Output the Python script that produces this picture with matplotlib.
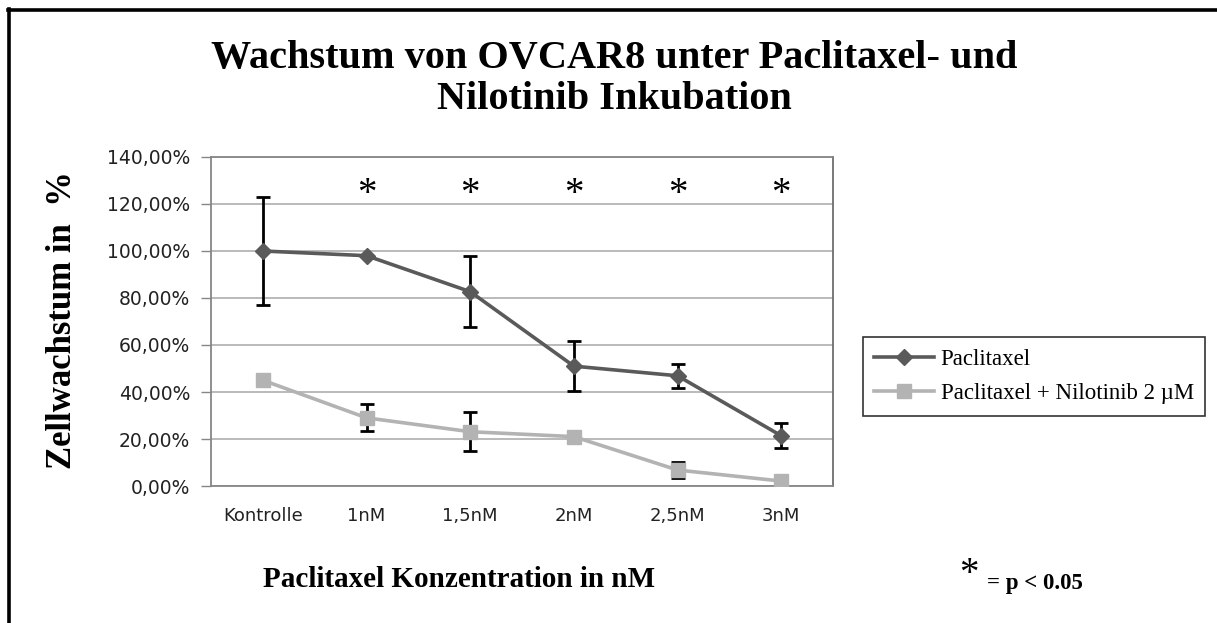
import numpy as np
import matplotlib.pyplot as plt
from matplotlib.lines import Line2D
from matplotlib.ticker import FuncFormatter

# categories and measured values (percent of control)
categories = ['Kontrolle', '1nM', '1,5nM', '2nM', '2,5nM', '3nM']
paclitaxel = [100.0, 98.0, 82.7, 51.0, 46.9, 21.4]
paclitaxel_err = [23.0, 0.0, 15.0, 10.6, 5.2, 5.2]
combo = [45.0, 29.0, 23.1, 21.0, 6.8, 2.1]
combo_err = [0.0, 5.8, 8.2, 0.0, 3.5, 0.0]
signif = [False, True, True, True, True, True]
star_level = 124.0
y_ticks = [0, 20, 40, 60, 80, 100, 120, 140]

SERIF = 'Liberation Serif'

fig = plt.figure(figsize=(12.17, 6.23), dpi=100)
ax = fig.add_axes([0.1734, 0.2199, 0.5111, 0.5281])

x = np.arange(len(categories))

# error bars first, lines + markers on top
ax.errorbar(x, paclitaxel, yerr=paclitaxel_err, fmt='none', ecolor='black',
            elinewidth=2, capsize=5, capthick=2, zorder=3)
ax.errorbar(x, combo, yerr=combo_err, fmt='none', ecolor='black',
            elinewidth=2, capsize=5, capthick=2, zorder=3)
ax.plot(x, paclitaxel, color='#5a5a5a', lw=2.6, marker='D', markersize=8,
        label='Paclitaxel', zorder=4)
ax.plot(x, combo, color='#b3b3b3', lw=2.6, marker='s', markersize=10,
        label='Paclitaxel + Nilotinib 2 µM', zorder=4)

# significance stars
for i, s in enumerate(signif):
    if s:
        ax.text(x[i], star_level, '*', ha='center', va='center',
                fontsize=28, family=SERIF, color='black')

ax.set_xlim(-0.5, len(categories) - 0.5)
ax.set_ylim(0, 140)
ax.set_yticks(y_ticks)
ax.yaxis.set_major_formatter(FuncFormatter(lambda v, p: f'{v:.2f}%'.replace('.', ',')))
ax.set_xticks(x)
ax.set_xticklabels(categories)
ax.tick_params(axis='x', length=0, pad=15, labelsize=13, labelcolor='#222222')
ax.tick_params(axis='y', length=7, width=1, color='#868686', direction='out',
               pad=8, labelsize=13.5, labelcolor='#222222')
ax.yaxis.grid(True, color='#b4b4b4', lw=1.3)
ax.set_axisbelow(True)
for sp in ax.spines.values():
    sp.set_color('#868686')
    sp.set_linewidth(1.3)
ax.spines['right'].set_color('#6e6e6e')

# titles and axis labels
fig.text(0.505, 0.873, 'Wachstum von OVCAR8 unter Paclitaxel- und\nNilotinib Inkubation',
         ha='center', va='center', fontsize=29, fontweight='bold', family=SERIF,
         linespacing=1.15)
fig.text(0.051, 0.487, 'Zellwachstum in  %', rotation=90, ha='center', va='center',
         fontsize=25, fontweight='bold', family=SERIF)
fig.text(0.377, 0.07, 'Paclitaxel Konzentration in nM', ha='center', va='center',
         fontsize=21, fontweight='bold', family=SERIF)

leg = fig.legend(loc='upper left', bbox_to_anchor=(0.709, 0.459), frameon=True,
                 fancybox=False, edgecolor='black', prop={'family': SERIF, 'size': 16.5},
                 handlelength=2.6, borderpad=0.5, labelspacing=0.6, handletextpad=0.3,
                 borderaxespad=0)
leg.get_frame().set_linewidth(1.2)

fig.text(0.796, 0.078, '*', ha='center', va='center', fontsize=28, family=SERIF)
fig.text(0.811, 0.064, '= p < 0.05', ha='left', va='center', fontsize=16.5,
         fontweight='bold', family=SERIF)

# outer frame (top and left edge)
fig.add_artist(Line2D([0.0066, 1.0], [0.984, 0.984], color='black', lw=2.6,
                      transform=fig.transFigure))
fig.add_artist(Line2D([0.0075, 0.0075], [0.0, 0.985], color='black', lw=2.6,
                      transform=fig.transFigure))

fig.savefig('out.png', dpi=100)
